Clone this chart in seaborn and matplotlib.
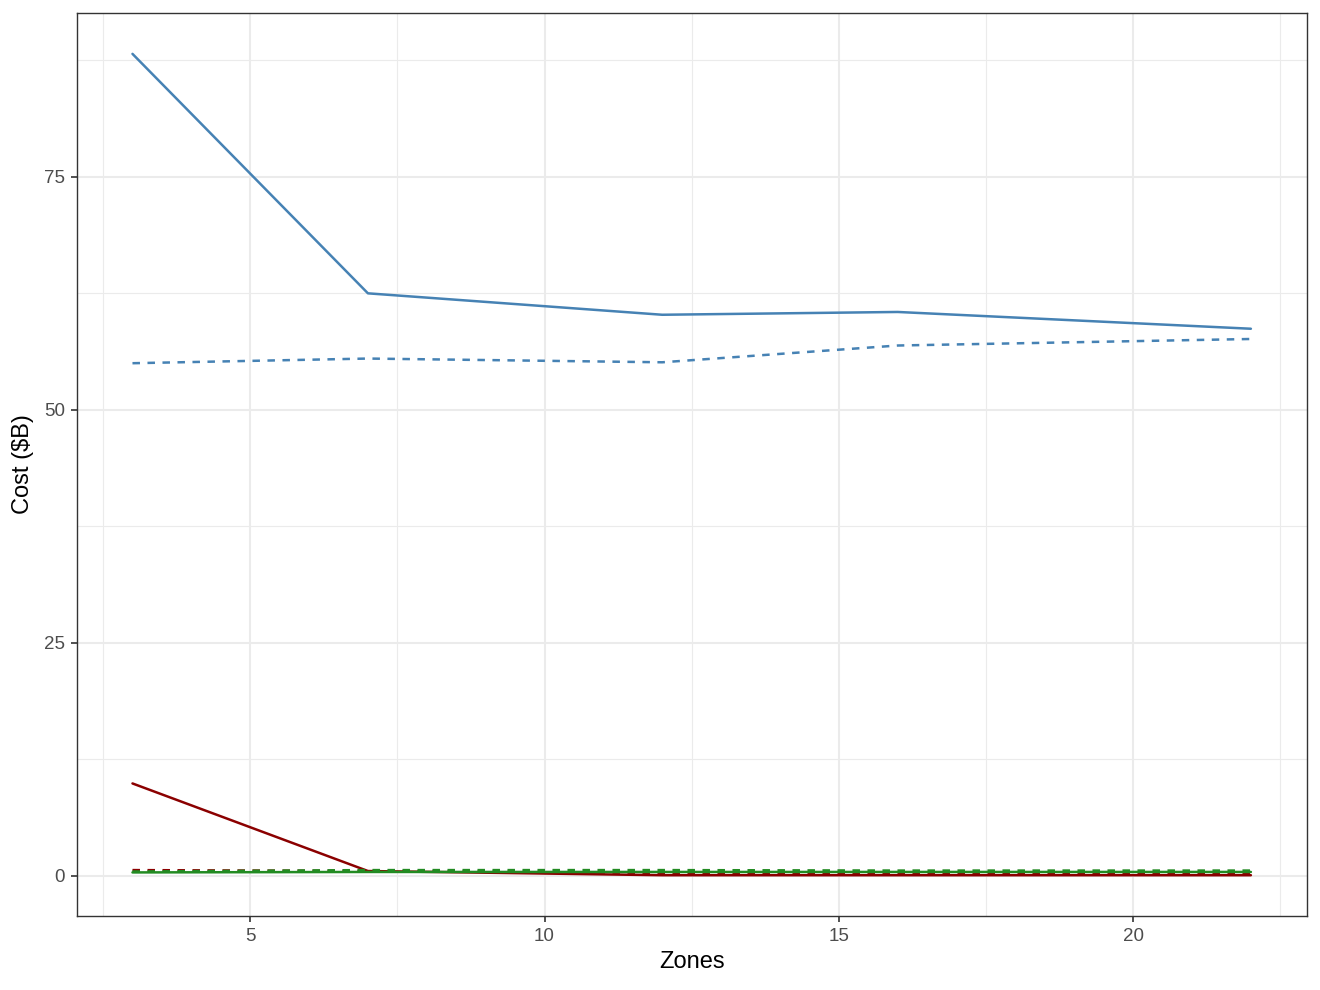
import pandas as pd
import numpy as np
import matplotlib.pyplot as plt
import seaborn as sns

zones = [3, 7, 12, 16, 22]
blue_solid = [88.2, 62.5, 60.2, 60.5, 58.7]
blue_dashed = [55.0, 55.5, 55.1, 56.9, 57.6]
red_solid = [9.9, 0.5, 0.05, 0.05, 0.05]
red_dashed = [0.6, 0.5, 0.3, 0.3, 0.3]
green_solid = [0.35, 0.4, 0.4, 0.4, 0.4]
green_dashed = [0.45, 0.6, 0.6, 0.55, 0.55]

series = {
    ('A', 'solid'): blue_solid, ('A', 'dashed'): blue_dashed,
    ('B', 'solid'): red_solid, ('B', 'dashed'): red_dashed,
    ('C', 'solid'): green_solid, ('C', 'dashed'): green_dashed,
}
rows = []
for (grp, sty), vals in series.items():
    for z, v in zip(zones, vals):
        rows.append({'Zones': z, 'Cost': v, 'grp': grp, 'sty': sty})
df = pd.DataFrame(rows)

sns.set_style('whitegrid')
plt.rcParams['font.family'] = ['Liberation Sans', 'DejaVu Sans']

fig, ax = plt.subplots(figsize=(13.2, 9.9), dpi=100)
sns.lineplot(
    data=df, x='Zones', y='Cost', hue='grp', style='sty',
    hue_order=['A', 'B', 'C'], style_order=['solid', 'dashed'],
    palette={'A': '#4682b4', 'B': '#8b0000', 'C': '#228b22'},
    dashes={'solid': '', 'dashed': (3, 3)},
    linewidth=1.8, legend=False, ax=ax
)

ax.set_xlim(2.05, 22.95)
ax.set_ylim(-4.3, 92.6)
ax.set_xticks([5, 10, 15, 20])
ax.set_yticks([0, 25, 50, 75])
ax.set_xticks(np.arange(2.5, 23, 5), minor=True)
ax.set_yticks([12.5, 37.5, 62.5, 87.5], minor=True)
ax.grid(which='major', color='#ebebeb', linewidth=1.5)
ax.grid(which='minor', color='#ebebeb', linewidth=0.8)
ax.set_axisbelow(True)
for s in ax.spines.values():
    s.set_color('#333333')
    s.set_linewidth(1.0)
ax.tick_params(axis='both', which='major', length=4.5, color='#333333',
               labelcolor='#4d4d4d', labelsize=13.5, width=1.2,
               bottom=True, left=True, pad=4)
ax.tick_params(axis='both', which='minor', length=0, bottom=False, left=False)
ax.set_xlabel('Zones', fontsize=17, color='black', labelpad=5)
ax.set_ylabel('Cost ($B)', fontsize=17, color='black', labelpad=7)

plt.subplots_adjust(left=0.058, right=0.99, top=0.987, bottom=0.075)
plt.savefig('out.png', dpi=100)
